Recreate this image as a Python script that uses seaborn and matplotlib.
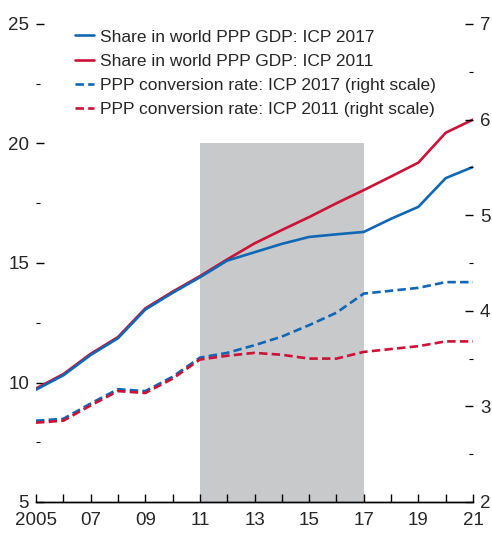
import matplotlib
matplotlib.use("Agg")
import matplotlib.pyplot as plt
import seaborn as sns
import pandas as pd
import numpy as np
from matplotlib.ticker import FixedLocator

years = list(range(2005, 2022))
share_icp2017 = [9.7, 10.3, 11.15, 11.85, 13.05, 13.75, 14.4, 15.1, 15.45, 15.8, 16.09, 16.2, 16.3, 16.85, 17.35, 18.55, 19.02]
share_icp2011 = [9.75, 10.35, 11.2, 11.9, 13.1, 13.8, 14.45, 15.15, 15.82, 16.38, 16.92, 17.5, 18.05, 18.62, 19.2, 20.45, 21.0]
ppp_icp2017 = [2.85, 2.87, 3.03, 3.18, 3.16, 3.31, 3.51, 3.56, 3.64, 3.73, 3.85, 3.98, 4.18, 4.21, 4.24, 4.30, 4.30]
ppp_icp2011 = [2.83, 2.85, 3.01, 3.16, 3.14, 3.29, 3.49, 3.53, 3.56, 3.54, 3.50, 3.50, 3.57, 3.60, 3.63, 3.68, 3.68]
labels = ["Share in world PPP GDP: ICP 2017",
          "Share in world PPP GDP: ICP 2011",
          "PPP conversion rate: ICP 2017 (right scale)",
          "PPP conversion rate: ICP 2011 (right scale)"]
xtick_years = [2005, 2007, 2009, 2011, 2013, 2015, 2017, 2019, 2021]
xtick_labels = ["2005", "07", "09", "11", "13", "15", "17", "19", "21"]
shade_start, shade_end, shade_top = 2011, 2017, 20

BLUE = "#0f67b5"
RED = "#cc1236"

sns.set_theme(style="white")
plt.rcParams['font.family'] = ['Liberation Sans', 'DejaVu Sans']

df = pd.DataFrame({"year": years, "s17": share_icp2017, "s11": share_icp2011,
                   "p17": ppp_icp2017, "p11": ppp_icp2011})

fig = plt.figure(figsize=(4.92, 5.34), dpi=100)
ax = fig.add_axes([36/492, 1-502/534, (473-36)/492, (502-24)/534])
ax2 = ax.twinx()

ax.fill_between([shade_start, shade_end], 5, shade_top, color="#c8c9cb", lw=0, zorder=0)

lw = 1.9
sns.lineplot(data=df, x="year", y="s11", ax=ax, color=RED, lw=lw, label=labels[1], legend=False)
sns.lineplot(data=df, x="year", y="s17", ax=ax, color=BLUE, lw=lw, label=labels[0], legend=False)
sns.lineplot(data=df, x="year", y="p17", ax=ax2, color=BLUE, lw=lw, label=labels[2], legend=False)
sns.lineplot(data=df, x="year", y="p11", ax=ax2, color=RED, lw=lw, label=labels[3], legend=False)
for l in ax2.get_lines():
    l.set_dashes([3.2, 1.6])

ax.set_xlim(2005, 2021)
ax.set_ylim(5, 25)
ax2.set_ylim(2, 7)
for a in (ax, ax2):
    a.set_xlabel("")
    a.set_ylabel("")
    for s in ("top", "left", "right"):
        a.spines[s].set_visible(False)
    a.spines["bottom"].set_color("black")
    a.spines["bottom"].set_linewidth(1.0)
    a.grid(False)

ax.set_xticks(xtick_years)
ax.set_xticklabels(xtick_labels)
ax.xaxis.set_minor_locator(FixedLocator(years))
ax.tick_params(axis="x", which="both", direction="in", length=6, width=1.0, color="black",
               labelsize=13.5, pad=7, bottom=True)
ax.set_yticks([5, 10, 15, 20, 25])
ax.yaxis.set_minor_locator(FixedLocator([7.5, 12.5, 17.5, 22.5]))
ax.tick_params(axis="y", which="major", direction="in", length=6, width=1.0, color="black",
               labelsize=13.5, pad=5, left=True)
ax.tick_params(axis="y", which="minor", direction="in", length=3, width=0.8, color="black", left=True)

ax2.set_yticks([2, 3, 4, 5, 6, 7])
ax2.yaxis.set_minor_locator(FixedLocator([2.5, 3.5, 4.5, 5.5, 6.5]))
ax2.tick_params(axis="y", which="major", direction="in", length=6, width=1.0, color="black",
                labelsize=13.5, pad=5, right=True)
ax2.tick_params(axis="y", which="minor", direction="in", length=3, width=0.8, color="black", right=True)

handles = [ax.get_lines()[1], ax.get_lines()[0], ax2.get_lines()[0], ax2.get_lines()[1]]
leg = ax.legend(handles, labels, loc="upper left", bbox_to_anchor=(0.082, 0.996),
                frameon=False, fontsize=12.5, handlelength=1.05, handletextpad=0.35,
                labelspacing=0.52, borderaxespad=0.0, borderpad=0.2)
leg.set_zorder(10)

fig.savefig("out.png", dpi=100)
